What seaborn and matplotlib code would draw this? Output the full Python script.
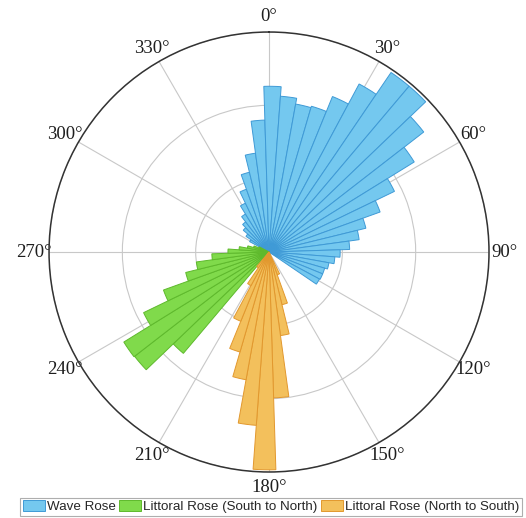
import numpy as np
import matplotlib
matplotlib.use("Agg")
import matplotlib.pyplot as plt
import seaborn as sns
from matplotlib.patches import Patch

# Direction bins (degrees, clockwise from north) and their frequencies
wave_dirs = [301.2, 307.2, 313.2, 319.2, 325.2, 331.2, 337.2, 343.2, 349.2, 355.2,
             1.2, 7.2, 13.2, 19.2, 25.2, 31.2, 37.2, 43.2, 49.2, 55.2,
             61.2, 67.2, 73.2, 79.2, 85.2, 91.2, 97.2, 103.2, 109.2, 115.2, 121.2]
wave_freq = [3.0, 3.8, 4.6, 5.2, 6.1, 7.4, 9.1, 11.2, 13.6, 18.0,
             22.6, 21.3, 20.5, 20.7, 22.9, 26.0, 29.6, 29.6, 26.7, 23.3,
             19.0, 16.1, 13.6, 12.4, 11.0, 9.7, 9.0, 8.3, 7.9, 7.9, 7.8]

sn_dirs = [223.2, 229.2, 235.2, 241.2, 247.2, 253.2, 259.2, 265.2, 271.2, 277.2,
           283.2, 289.2, 295.2]
sn_freq = [18.1, 23.2, 23.3, 19.0, 15.3, 11.7, 10.0, 7.8, 5.6, 4.1, 3.0, 2.2, 1.5]

ns_dirs = [157.2, 163.2, 169.2, 175.2, 181.2, 187.2, 193.2, 199.2, 205.2, 211.2, 217.2]
ns_freq = [3.3, 7.4, 11.5, 19.9, 29.7, 23.7, 17.7, 14.2, 10.2, 5.2, 2.6]

series_names = ["Wave Rose", "Littoral Rose (South to North)", "Littoral Rose (North to South)"]
angle_ticks = [0, 30, 60, 90, 120, 150, 180, 210, 240, 270, 300, 330]
bin_width = 6.0
r_max = 30
r_rings = [10, 20, 30]

sns.set_theme(style="white")
face_colors = sns.color_palette(["#74C8EF", "#80DA4B", "#F3C05C"])
edge_colors = sns.color_palette(["#3F9AD6", "#5EB92C", "#E2982E"])

fig = plt.figure(figsize=(5.26, 5.18), dpi=100)
ax = fig.add_axes([0.0932, 0.0888, 0.8365, 0.8494], projection="polar")
ax.set_theta_zero_location("N")
ax.set_theta_direction(-1)

for dirs, freq, fc, ec in zip([wave_dirs, sn_dirs, ns_dirs],
                              [wave_freq, sn_freq, ns_freq],
                              face_colors, edge_colors):
    ax.bar(np.deg2rad(dirs), freq, width=np.deg2rad(bin_width), bottom=0,
           color=fc, edgecolor=ec, linewidth=0.7, zorder=3)

ax.set_ylim(0, r_max)
ax.set_yticks(r_rings)
ax.set_yticklabels([])
ax.set_thetagrids(angle_ticks, labels=[f"{a}°" for a in angle_ticks],
                  fontsize=13.5, family="Liberation Serif")
ax.tick_params(axis="x", pad=-2, colors="#1E1E1E")
ax.grid(True, color="#C8C8C8", linewidth=0.8)
ax.spines["polar"].set_color("#333333")
ax.spines["polar"].set_linewidth(1.1)

handles = [Patch(facecolor=fc, edgecolor=ec, linewidth=0.7)
           for fc, ec in zip(face_colors, edge_colors)]
leg = fig.legend(handles, series_names, loc="lower center", ncol=3,
                 bbox_to_anchor=(0.515, 0.0), frameon=True, fancybox=False,
                 prop={"family": "Liberation Sans", "size": 9.6},
                 handlelength=1.65, handleheight=0.9, handletextpad=0.15,
                 columnspacing=0.25, borderpad=0.2, borderaxespad=0.15)
leg.get_frame().set_edgecolor("#9A9A9A")
leg.get_frame().set_linewidth(0.8)

fig.savefig("out.png", dpi=100)
